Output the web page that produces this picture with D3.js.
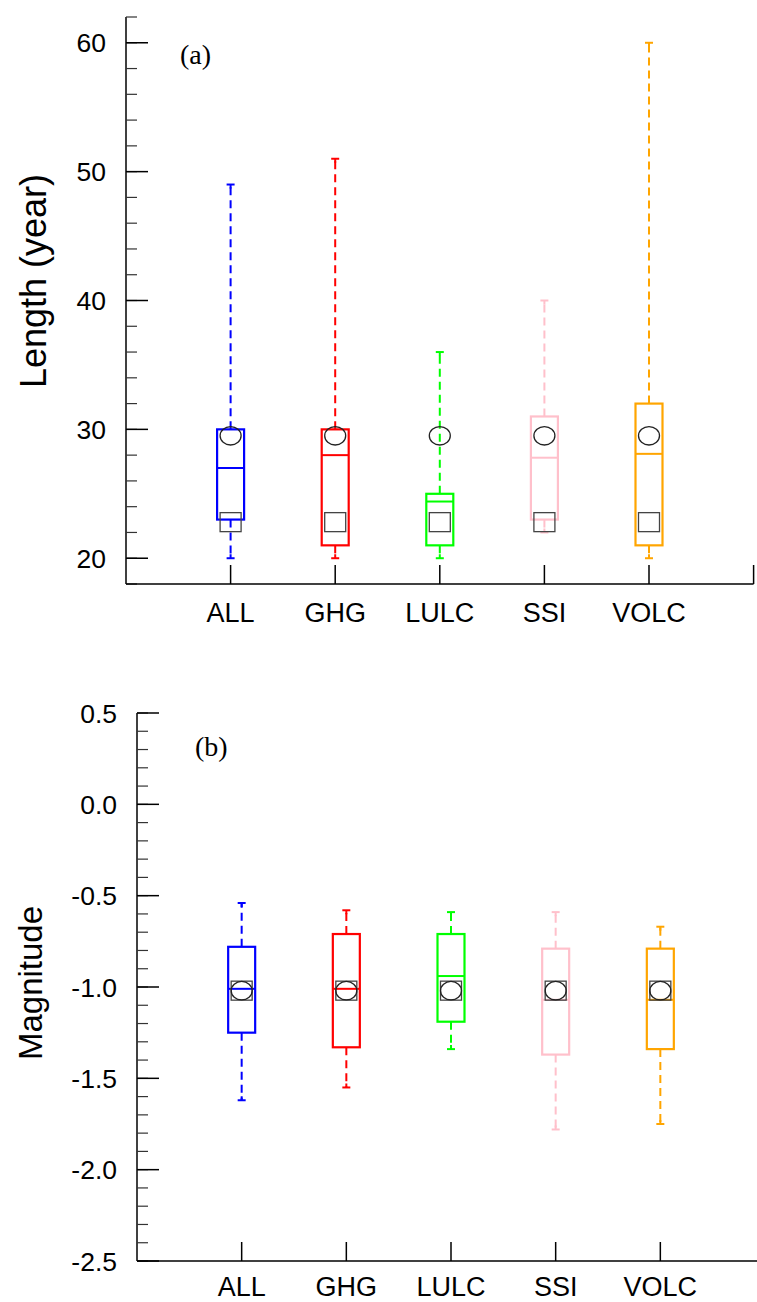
<!DOCTYPE html>
<html><head><meta charset="utf-8">
<script src="https://cdn.jsdelivr.net/npm/d3@7"></script>
<style>body{margin:0;background:#fff}svg{display:block}</style>
</head><body>
<svg id="c" width="757" height="1302"></svg>
<script>
const categories = ["ALL","GHG","LULC","SSI","VOLC"];
const colors = ["#0000ff","#ff0000","#00ff00","#ffc0cb","#ffa500"];

// Panel (a): Length (year)
const lenLow  = [20, 20, 20, 22, 20];
const lenQ1   = [23, 21, 21, 23, 21];
const lenMed  = [27, 28, 24.4, 27.8, 28.1];
const lenQ3   = [30, 30, 25, 31, 32];
const lenHigh = [49, 51, 36, 40, 60];
const lenCircle = [29.5, 29.5, 29.5, 29.5, 29.5];
const lenSquare = [22.8, 22.8, 22.8, 22.8, 22.8];
const lenTicks = [20, 30, 40, 50, 60];

// Panel (b): Magnitude
const magLow  = [-1.62, -1.55, -1.34, -1.78, -1.75];
const magQ1   = [-1.25, -1.33, -1.19, -1.37, -1.34];
const magMed  = [-1.01, -1.01, -0.94, -1.07, -1.07];
const magQ3   = [-0.78, -0.71, -0.71, -0.79, -0.79];
const magHigh = [-0.54, -0.58, -0.59, -0.59, -0.67];
const magCircle = [-1.02, -1.02, -1.02, -1.02, -1.02];
const magSquare = [-1.02, -1.02, -1.02, -1.02, -1.02];
const magTicks = [0.5, 0.0, -0.5, -1.0, -1.5, -2.0, -2.5];

const svg = d3.select("#c");
const SANS = "Liberation Sans, Arial, Helvetica, sans-serif";

function panel(o) {
  const g = svg.append("g");
  const x = d3.scaleLinear().domain([0, 6]).range([o.x0, o.x1]);
  const y = d3.scaleLinear().domain(o.domain).range([o.yb, o.yt]);

  g.append("line").attr("x1", o.x0).attr("x2", o.x0).attr("y1", y(o.domain[0])).attr("y2", y(o.domain[1]))
    .attr("stroke", "#000").attr("stroke-width", 1.5);
  g.selectAll(".mn").data(o.minor).join("line")
    .attr("x1", o.x0).attr("x2", o.x0 + 11).attr("y1", d => y(d)).attr("y2", d => y(d))
    .attr("stroke", "#333").attr("stroke-width", 1.2);
  g.selectAll(".mj").data(o.ticks).join("line")
    .attr("x1", o.x0).attr("x2", o.x0 + 22).attr("y1", d => y(d)).attr("y2", d => y(d))
    .attr("stroke", "#000").attr("stroke-width", 1.5);
  g.selectAll(".tl").data(o.ticks).join("text")
    .attr("x", o.x0 - o.labGap).attr("y", d => y(d) + 9.5)
    .attr("text-anchor", "end").attr("font-family", SANS)
    .attr("font-size", 26.5).text(o.fmt);

  g.append("line").attr("x1", o.x0).attr("x2", x(6)).attr("y1", o.yb).attr("y2", o.yb)
    .attr("stroke", "#000").attr("stroke-width", 1.5);
  g.selectAll(".xt").data([1, 2, 3, 4, 5, 6]).join("line")
    .attr("x1", d => x(d)).attr("x2", d => x(d)).attr("y1", o.yb).attr("y2", o.yb - 19)
    .attr("stroke", "#000").attr("stroke-width", 1.5);
  g.selectAll(".xl").data(categories).join("text")
    .attr("x", (d, i) => x(i + 1)).attr("y", o.yb + o.catDy)
    .attr("text-anchor", "middle").attr("font-family", SANS)
    .attr("font-size", 27).text(d => d);

  g.append("text").attr("transform", `translate(${o.ylx},${o.yly}) rotate(-90)`)
    .attr("text-anchor", "middle").attr("font-family", SANS)
    .attr("font-size", o.ylSize).text(o.ylabel);
  g.append("text").attr("x", o.lx).attr("y", o.ly)
    .attr("font-family", "Liberation Serif, Times New Roman, serif").attr("font-size", 28).text(o.letter);

  const bw = 27, cw = 8;
  categories.forEach((c, i) => {
    const cx = x(i + 1), col = colors[i];
    const b = g.append("g");
    b.append("line").attr("x1", cx).attr("x2", cx).attr("y1", y(o.q3[i])).attr("y2", y(o.hi[i]))
      .attr("stroke", col).attr("stroke-width", 2).attr("stroke-dasharray", "8,5");
    b.append("line").attr("x1", cx).attr("x2", cx).attr("y1", y(o.q1[i])).attr("y2", y(o.lo[i]))
      .attr("stroke", col).attr("stroke-width", 2).attr("stroke-dasharray", "8,5");
    [o.hi[i], o.lo[i]].forEach(v => {
      b.append("line").attr("x1", cx - cw / 2).attr("x2", cx + cw / 2).attr("y1", y(v)).attr("y2", y(v))
        .attr("stroke", col).attr("stroke-width", 2);
      b.append("line").attr("x1", cx).attr("x2", cx).attr("y1", y(v)).attr("y2", y(v) + (v === o.hi[i] ? 4 : -4))
        .attr("stroke", col).attr("stroke-width", 2);
    });
    b.append("rect").attr("x", cx - bw / 2).attr("width", bw)
      .attr("y", y(o.q3[i])).attr("height", y(o.q1[i]) - y(o.q3[i]))
      .attr("fill", "none").attr("stroke", col).attr("stroke-width", 2.2);
    b.append("line").attr("x1", cx - bw / 2).attr("x2", cx + bw / 2).attr("y1", y(o.med[i])).attr("y2", y(o.med[i]))
      .attr("stroke", col).attr("stroke-width", 2);
    b.append("rect").attr("x", cx - 10.5).attr("y", y(o.sq[i]) - 9.5).attr("width", 21).attr("height", 19)
      .attr("fill", "none").attr("stroke", "#444").attr("stroke-width", 1.3);
    b.append("ellipse").attr("cx", cx).attr("cy", y(o.ci[i])).attr("rx", 10.5).attr("ry", 9.2)
      .attr("fill", "none").attr("stroke", "#222").attr("stroke-width", 1.3);
  });
}

panel({
  x0: 126, x1: 753.6, domain: [18, 62], yb: 584, yt: 17,
  ticks: lenTicks, minor: d3.range(18, 63, 2), fmt: d => d, labGap: 20,
  lo: lenLow, q1: lenQ1, med: lenMed, q3: lenQ3, hi: lenHigh, ci: lenCircle, sq: lenSquare,
  catDy: 38, ylabel: "Length (year)", ylSize: 36, ylx: 46, yly: 281, letter: "(a)", lx: 180, ly: 64
});

panel({
  x0: 137, x1: 765, domain: [-2.5, 0.5], yb: 1261, yt: 713,
  ticks: magTicks, minor: d3.range(-25, 6).map(d => d / 10), fmt: d => d3.format(".1f")(d).replace("−", "-"), labGap: 20,
  lo: magLow, q1: magQ1, med: magMed, q3: magQ3, hi: magHigh, ci: magCircle, sq: magSquare,
  catDy: 35, ylabel: "Magnitude", ylSize: 33, ylx: 42, yly: 983, letter: "(b)", lx: 195, ly: 756
});
</script>
</body></html>
